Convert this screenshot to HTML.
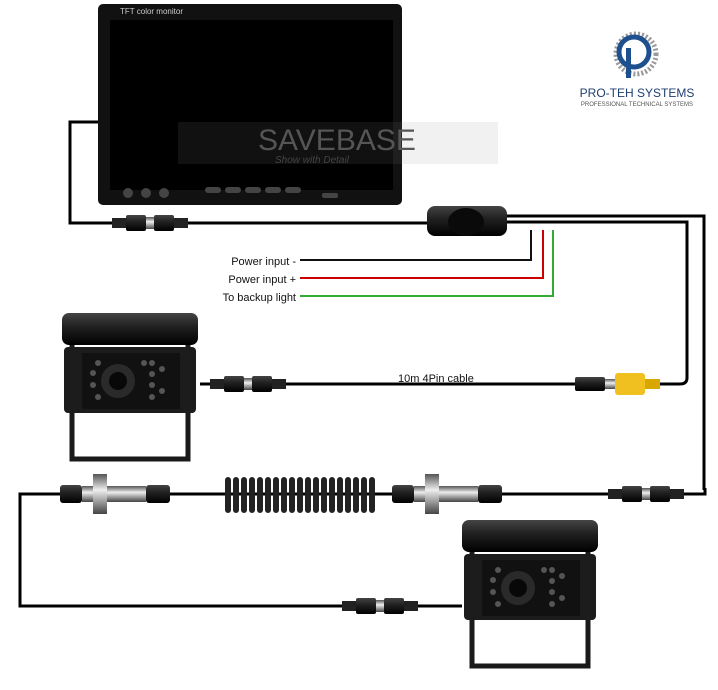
<!DOCTYPE html>
<html><head><meta charset="utf-8"><style>
html,body{margin:0;padding:0;background:#fff;}
svg{display:block;}
text{font-family:"Liberation Sans",sans-serif;}
</style></head><body>
<svg width="718" height="690" viewBox="0 0 718 690" xmlns="http://www.w3.org/2000/svg">
<defs>
<linearGradient id="met" x1="0" y1="0" x2="0" y2="1"><stop offset="0" stop-color="#555"/><stop offset=".4" stop-color="#eee"/><stop offset="1" stop-color="#444"/></linearGradient>
<linearGradient id="blk" x1="0" y1="0" x2="0" y2="1"><stop offset="0" stop-color="#444"/><stop offset=".4" stop-color="#222"/><stop offset="1" stop-color="#000"/></linearGradient>
<g id="cam">
<path d="M12 30 V146 H128 V30" fill="none" stroke="#1a1a1a" stroke-width="5"/>
<rect x="2" y="0" width="136" height="32" rx="7" fill="url(#blk)"/>
<rect x="4" y="34" width="132" height="66" rx="4" fill="#1c1c1c"/>
<rect x="22" y="40" width="98" height="56" fill="#111"/>
<circle cx="58" cy="68" r="17" fill="#2a2a2a"/><circle cx="58" cy="68" r="9" fill="#080808"/>
<g fill="#555"><circle cx="38" cy="50" r="3"/><circle cx="33" cy="60" r="3"/><circle cx="33" cy="72" r="3"/><circle cx="38" cy="84" r="3"/><circle cx="84" cy="50" r="3"/><circle cx="92" cy="50" r="3"/><circle cx="92" cy="61" r="3"/><circle cx="92" cy="72" r="3"/><circle cx="92" cy="84" r="3"/><circle cx="102" cy="56" r="3"/><circle cx="102" cy="78" r="3"/></g>
</g>
<g id="conn">
<rect x="0" y="-5" width="14" height="10" fill="#222"/>
<rect x="14" y="-8" width="20" height="16" rx="2" fill="url(#blk)"/>
<rect x="34" y="-6" width="8" height="12" fill="url(#met)"/>
<rect x="42" y="-8" width="20" height="16" rx="2" fill="url(#blk)"/>
<rect x="62" y="-5" width="14" height="10" fill="#222"/>
</g>
<g id="mconn">
<rect x="0" y="-9" width="22" height="18" rx="3" fill="url(#blk)"/>
<rect x="22" y="-8" width="28" height="16" fill="url(#met)"/>
<rect x="33" y="-20" width="14" height="40" fill="url(#met)"/>
<rect x="50" y="-8" width="36" height="16" fill="url(#met)"/>
<rect x="86" y="-9" width="24" height="18" rx="3" fill="url(#blk)"/>
</g>
</defs>

<g fill="none" stroke="#000" stroke-width="3">
<path d="M100 122 H70 V223 H430"/>
<path d="M500 216 H704 V490"/>
<path d="M500 222 H687 V378 Q687 384 680 384 H660"/>
<path d="M200 384 H590"/>
<path d="M705 488 V494 H20 V606 H462"/>
</g>
<g fill="none" stroke-width="2">
<path d="M300 260 H531 V230" stroke="#111"/>
<path d="M300 278 H543 V230" stroke="#c00"/>
<path d="M300 296 H553 V230" stroke="#3a3"/>
</g>

<rect x="98" y="4" width="304" height="201" rx="5" fill="#111"/>
<rect x="110" y="20" width="283" height="170" fill="#000"/>
<text x="120" y="14" font-size="8" fill="#ccc" font-family="Liberation Serif">TFT color monitor</text>
<g fill="#444"><circle cx="128" cy="193" r="5"/><circle cx="146" cy="193" r="5"/><circle cx="164" cy="193" r="5"/>
<rect x="205" y="187" width="16" height="6" rx="3"/><rect x="225" y="187" width="16" height="6" rx="3"/><rect x="245" y="187" width="16" height="6" rx="3"/><rect x="265" y="187" width="16" height="6" rx="3"/><rect x="285" y="187" width="16" height="6" rx="3"/><rect x="322" y="193" width="16" height="5" rx="2"/></g>
<rect x="178" y="122" width="320" height="42" fill="#888" opacity=".12"/>
<text x="258" y="150" font-size="30" fill="#555">SAVEBASE</text>
<text x="275" y="163" font-size="10" fill="#444" font-style="italic" font-family="Liberation Serif">Show with Detail</text>

<use href="#conn" x="112" y="223"/>
<rect x="427" y="206" width="80" height="30" rx="8" fill="url(#blk)"/>
<ellipse cx="466" cy="222" rx="18" ry="14" fill="#0a0a0a"/>

<text x="296" y="265" font-size="11" text-anchor="end" fill="#111">Power input -</text>
<text x="296" y="283" font-size="11" text-anchor="end" fill="#111">Power input +</text>
<text x="296" y="301" font-size="11" text-anchor="end" fill="#111">To backup light</text>
<text x="398" y="382" font-size="11" fill="#111">10m 4Pin cable</text>

<circle cx="636" cy="54" r="20" fill="none" stroke="#999" stroke-width="5" stroke-dasharray="2 2"/>
<circle cx="634" cy="52" r="15" fill="#fff" stroke="#1e4f8f" stroke-width="5"/>
<rect x="626" y="48" width="5" height="30" fill="#1e4f8f"/>
<text x="637" y="97" font-size="12" text-anchor="middle" fill="#1e3f6f" font-family="Liberation Serif">PRO-TEH SYSTEMS</text>
<text x="637" y="106" font-size="6" text-anchor="middle" fill="#555">PROFESSIONAL TECHNICAL SYSTEMS</text>

<use href="#cam" x="60" y="313"/>
<use href="#conn" x="210" y="384"/>
<rect x="575" y="377" width="30" height="14" rx="2" fill="url(#blk)"/>
<rect x="605" y="379" width="10" height="10" fill="url(#met)"/>
<rect x="615" y="373" width="30" height="22" rx="3" fill="#f0c020"/>
<rect x="645" y="379" width="15" height="10" fill="#d9a800"/>

<use href="#mconn" x="60" y="494"/>
<use href="#mconn" x="392" y="494"/>
<g fill="none" stroke="#222" stroke-width="6" stroke-linecap="round">
<path d="M228 480 V510 M236 480 V510 M244 480 V510 M252 480 V510 M260 480 V510 M268 480 V510 M276 480 V510 M284 480 V510 M292 480 V510 M300 480 V510 M308 480 V510 M316 480 V510 M324 480 V510 M332 480 V510 M340 480 V510 M348 480 V510 M356 480 V510 M364 480 V510 M372 480 V510"/>
</g>
<use href="#conn" x="608" y="494"/>
<use href="#conn" x="342" y="606"/>

<use href="#cam" x="460" y="520"/>
</svg>
</body></html>
